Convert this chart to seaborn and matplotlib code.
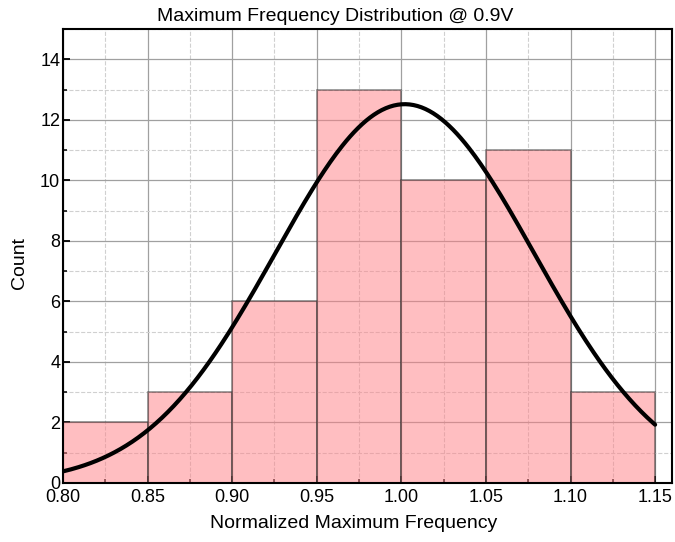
import numpy as np
import pandas as pd
import matplotlib
matplotlib.use("Agg")
import matplotlib.pyplot as plt
import matplotlib.transforms as mtransforms
import seaborn as sns
from matplotlib.ticker import MultipleLocator

# Data
bin_edges = [0.80, 0.85, 0.90, 0.95, 1.00, 1.05, 1.10, 1.15]
bin_centers = [0.825, 0.875, 0.925, 0.975, 1.025, 1.075, 1.125]
counts = [2, 3, 6, 13, 10, 11, 3]
# Fitted normal curve parameters
fit_mu = 1.002
fit_sigma = 0.0765

sns.set_theme(style="white")
plt.rcParams['font.family'] = ['Liberation Sans', 'DejaVu Sans']

fig, ax = plt.subplots(figsize=(6.75, 5.42), dpi=100)
fig.subplots_adjust(left=0.0933, right=0.9956, top=0.9465, bottom=0.1089)

ax.set_axisbelow(True)
ax.grid(which='major', color='#a0a0a0', linestyle='-', linewidth=0.9)
ax.grid(which='minor', color='#d0d0d0', linestyle='--', linewidth=0.8)

df = pd.DataFrame({"x": bin_centers, "w": counts})
sns.histplot(data=df, x="x", weights="w", bins=bin_edges, ax=ax,
             color="#ff7f85", alpha=0.5, edgecolor=(0.2, 0.2, 0.2, 0.55),
             linewidth=1.2, stat="count")

n_total = sum(counts)
bw = bin_edges[1] - bin_edges[0]
xs = np.linspace(bin_edges[0], bin_edges[-1], 300)
ys = n_total * bw / (fit_sigma * np.sqrt(2 * np.pi)) * np.exp(-0.5 * ((xs - fit_mu) / fit_sigma) ** 2)
sns.lineplot(x=xs, y=ys, ax=ax, color='black', linewidth=3)

ax.set_xlim(0.80, 1.16)
ax.set_ylim(0, 15)
ax.xaxis.set_major_locator(MultipleLocator(0.05))
ax.xaxis.set_minor_locator(MultipleLocator(0.025))
ax.yaxis.set_major_locator(MultipleLocator(2))
ax.yaxis.set_minor_locator(MultipleLocator(1))
ax.set_xticks(bin_edges)
ax.set_xticklabels([f"{v:.2f}" for v in bin_edges])

ax.tick_params(which='major', direction='in', length=5, width=1.3, labelsize=13,
               bottom=True, left=True, top=False, right=False, color='black',
               labelcolor='black')
ax.tick_params(axis='x', which='major', pad=4)
ax.tick_params(axis='y', which='major', pad=2)
ax.tick_params(which='minor', direction='in', length=3, width=1.1,
               bottom=True, left=True, top=False, right=False, color='black')
fig.canvas.draw()
ylbls = ax.get_yticklabels()
for lbl in ylbls:
    lbl.set_verticalalignment('center_baseline')
# nudge the "0" label upward slightly as in the reference
shift = mtransforms.ScaledTranslation(0, 2 / 72, fig.dpi_scale_trans)
ax.yaxis.get_major_ticks()[0].label1.set_transform(
    ax.yaxis.get_major_ticks()[0].label1.get_transform() + shift)

for s in ax.spines.values():
    s.set_visible(True)
    s.set_color('black')
    s.set_linewidth(1.5)

fig.suptitle("Maximum Frequency Distribution @ 0.9V", fontsize=14, x=0.497, y=0.969,
             va='center', color='black')
ax.set_xlabel("Normalized Maximum Frequency", fontsize=14, labelpad=8, color='black')
ax.xaxis.set_label_coords(0.477, -0.07)
ax.set_ylabel("Count", fontsize=14, labelpad=8, color='black')
ax.yaxis.set_label_coords(-0.057, 0.485)

fig.savefig("out.png", dpi=100)
